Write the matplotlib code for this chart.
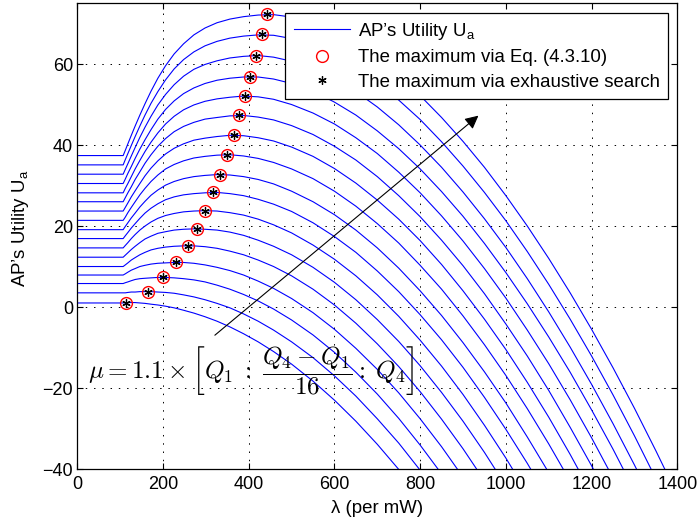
import matplotlib
matplotlib.use('Agg')
import matplotlib.pyplot as plt

plt.rcParams['font.family'] = ['Liberation Sans', 'DejaVu Sans']
plt.rcParams['mathtext.fontset'] = 'cm'

# lambda sample points (per mW) shared by all curves
lam = [0, 107, 112, 118, 126, 135, 146, 158, 172, 188, 206, 226, 248, 272, 298, 326, 356, 388, 422, 458,
       500, 550, 600, 650, 700, 750, 800, 850, 900, 950, 1000, 1050, 1100, 1150, 1200, 1250, 1300, 1350, 1400]

# AP's utility for the 17 values of mu
U01 = [1, 1, 1.1, 1.1, 1.1, 1.1, 1, 0.9, 0.7, 0.5, 0.2, -0.2, -0.8, -1.5, -2.4, -3.5, -4.9, -6.6, -8.6, -11,
       -14.1, -18.3, -23, -28.2, -33.9, -40.1]
U02 = [3.5, 3.5, 3.5, 3.6, 3.7, 3.7, 3.8, 3.8, 3.8, 3.7, 3.6, 3.4, 3, 2.5, 1.8, 0.9, -0.2, -1.7, -3.5, -5.7,
       -8.6, -12.5, -17, -22, -27.6, -33.6, -40.3]
U03 = [5.8, 5.8, 6.0, 6.2, 6.5, 6.8, 7.0, 7.1, 7.2, 7.3, 7.3, 7.2, 7.0, 6.7, 6.2, 5.4, 4.4, 3.1, 1.5, -0.5,
       -3.2, -6.9, -11.2, -16.1, -21.5, -27.5, -34.1, -41.2]
U04 = [7.9, 7.9, 8.2, 8.6, 9.1, 9.5, 10.0, 10.3, 10.6, 10.8, 10.9, 11.0, 11.0, 10.8, 10.4, 9.8, 9.0, 7.9, 6.4, 4.6,
       2.1, -1.4, -5.5, -10.2, -15.4, -21.2, -27.6, -34.5, -42.0]
U05 = [10.0, 10.0, 10.4, 10.9, 11.6, 12.2, 12.9, 13.5, 14.1, 14.5, 14.8, 15.0, 15.1, 15.1, 14.9, 14.5, 13.8, 12.9,
       11.6, 10.0, 7.7, 4.4, 0.5, -4.0, -9.1, -14.7, -20.9, -27.7, -35.0, -42.9]
U06 = [12.3, 12.3, 12.8, 13.4, 14.2, 15.0, 15.9, 16.8, 17.5, 18.2, 18.6, 19.0, 19.2, 19.3, 19.2, 19.0, 18.5, 17.7,
       16.5, 15.0, 12.9, 9.8, 6.1, 1.8, -3.1, -8.5, -14.5, -21.1, -28.2, -35.9, -44.2]
U07 = [14.6, 14.6, 15.2, 15.9, 16.9, 17.9, 19.0, 20.0, 21.0, 21.9, 22.6, 23.1, 23.5, 23.7, 23.8, 23.7, 23.3, 22.7,
       21.7, 20.3, 18.3, 15.3, 11.8, 7.7, 3.0, -2.3, -8.2, -14.6, -21.6, -29.2, -37.3, -46.0]
U08 = [16.9, 16.9, 17.6, 18.4, 19.5, 20.6, 21.9, 23.2, 24.4, 25.5, 26.5, 27.2, 27.7, 28.0, 28.2, 28.3, 28.0, 27.5,
       26.6, 25.4, 23.6, 20.8, 17.4, 13.5, 8.9, 3.8, -1.9, -8.1, -14.9, -22.3, -30.2, -38.6, -47.6]
U09 = [19.1, 19.1, 19.9, 20.8, 22.0, 23.2, 24.7, 26.1, 27.6, 28.9, 30.1, 31.0, 31.7, 32.2, 32.5, 32.7, 32.6, 32.2,
       31.5, 30.4, 28.6, 26.0, 22.8, 19.0, 14.6, 9.6, 4.0, -2.1, -8.8, -16.0, -23.7, -32.1, -40.9]
U10 = [21.4, 21.4, 22.2, 23.3, 24.6, 26.0, 27.7, 29.3, 31.0, 32.6, 34.1, 35.2, 36.1, 36.8, 37.2, 37.5, 37.6, 37.3,
       36.7, 35.7, 34.1, 31.7, 28.6, 24.9, 20.6, 15.8, 10.3, 4.4, -2.2, -9.3, -16.9, -25.1, -33.8, -43.0]
U11 = [23.7, 23.7, 24.6, 25.7, 27.2, 28.7, 30.5, 32.4, 34.3, 36.1, 37.8, 39.2, 40.3, 41.2, 41.7, 42.1, 42.4, 42.3,
       41.8, 41.0, 39.5, 37.2, 34.2, 30.6, 26.4, 21.7, 16.4, 10.5, 4.0, -3.0, -10.5, -18.6, -27.2, -36.4, -46.1]
U12 = [26.0, 26.0, 27.0, 28.2, 29.7, 31.5, 33.4, 35.5, 37.6, 39.7, 41.6, 43.3, 44.6, 45.6, 46.4, 46.8, 47.2, 47.3,
       46.9, 46.2, 44.8, 42.6, 39.7, 36.3, 32.2, 27.5, 22.3, 16.5, 10.2, 3.3, -4.2, -12.1, -20.6, -29.7, -39.2, -49.3]
U13 = [28.2, 28.2, 29.3, 30.5, 32.2, 34.1, 36.2, 38.4, 40.7, 43.0, 45.2, 47.1, 48.7, 49.9, 50.8, 51.4, 51.8, 52.1,
       51.9, 51.3, 50.0, 47.9, 45.2, 41.8, 37.9, 33.3, 28.2, 22.5, 16.3, 9.5, 2.2, -5.7, -14.0, -22.9, -32.3, -42.2]
U14 = [30.5, 30.5, 31.6, 33, 34.7, 36.7, 39, 41.3, 43.8, 46.4, 48.8, 50.9, 52.7, 54.1, 55.2, 56, 56.5, 56.8,
       56.8, 56.3, 55.2, 53.3, 50.6, 47.4, 43.5, 39.1, 34.1, 28.5, 22.4, 15.7, 8.5, 0.8, -7.4, -16.1, -25.4, -35.1, -45.4]
U15 = [32.8, 32.8, 34, 35.4, 37.3, 39.4, 41.9, 44.4, 47.1, 49.9, 52.5, 54.9, 57, 58.7, 59.9, 60.8, 61.5, 61.9,
       62.1, 61.7, 60.7, 58.9, 56.3, 53.2, 49.4, 45, 40, 34.5, 28.4, 21.8, 14.7, 7, -1.2, -9.9, -19.1, -28.8, -39, -49.6]
U16 = [35.1, 35.1, 36.4, 37.9, 39.9, 42.1, 44.7, 47.4, 50.3, 53.2, 56.1, 58.8, 61.1, 63, 64.5, 65.6, 66.4, 66.9,
       67.2, 67.1, 66.3, 64.6, 62.2, 59.1, 55.4, 51.1, 46.3, 40.8, 34.8, 28.3, 21.3, 13.7, 5.6, -3, -12.1, -21.7,
       -31.8, -42.4]
U17 = [37.4, 37.4, 38.7, 40.3, 42.4, 44.7, 47.4, 50.2, 53.3, 56.5, 59.6, 62.5, 65, 67.2, 68.9, 70.2, 71.1, 71.7,
       72.1, 72.2, 71.6, 70, 67.7, 64.8, 61.2, 57, 52.2, 46.8, 40.9, 34.5, 27.5, 20, 12, 3.5, -5.5, -15, -25,
       -35.5, -46.4]
curves = [U01, U02, U03, U04, U05, U06, U07, U08, U09, U10, U11, U12, U13, U14, U15, U16, U17]

# maxima (lambda, utility)
lam_max = [113, 165, 201, 230, 259, 279, 299, 316, 333, 349, 365, 378, 391, 404, 416, 430, 443]
U_max = [1.1, 3.8, 7.3, 11.0, 15.1, 19.3, 23.8, 28.3, 32.7, 37.6, 42.4, 47.3, 52.1, 56.9, 62.1, 67.3, 72.3]

fig = plt.figure(figsize=(6.99, 5.23), dpi=100)
ax = fig.add_axes([77.3/699, 1-469/523, 600/699, (469-3.3)/523])

for i, U in enumerate(curves):
    ax.plot(lam[:len(U)], U, color='b', lw=0.8,
            label="AP’s Utility U$_{\\mathregular{a}}$" if i == 0 else None)

ax.plot(lam_max, U_max, 'o', mfc='none', mec='r', ms=8.5, mew=1.0, ls='none',
        label='The maximum via Eq. (4.3.10)')
ax.plot(lam_max, U_max, marker=(6, 2, 0), ls='none', color='k', ms=6, mew=0.9,
        label='The maximum via exhaustive search')

ax.set_xlim(0, 1400)
ax.set_ylim(-40, 75)
ax.set_xticks(range(0, 1401, 200))
ax.set_yticks(range(-40, 61, 20))
ax.grid(True, ls=(0, (1.5, 7)), color='k', lw=0.7)
ax.tick_params(direction='in', top=True, right=True, length=4.5, labelsize=13)
ax.tick_params(axis='x', pad=4.8)
ax.tick_params(axis='y', pad=3)
for sp in ax.spines.values():
    sp.set_linewidth(0.9)

ax.set_xlabel('λ (per mW)', fontsize=13.4)
ax.set_ylabel("AP’s Utility U$_{\\mathregular{a}}$", fontsize=13.4)
ax.xaxis.set_label_coords(0.5, -0.066)
ax.yaxis.set_label_coords(-0.077, 0.517)

leg = ax.legend(loc='upper right', bbox_to_anchor=(0.985, 0.98), borderaxespad=0,
                fontsize=13.4, handlelength=3.05, handletextpad=0.4, borderpad=0.45, labelspacing=0.4,
                fancybox=False, edgecolor='k', framealpha=1)
leg.get_frame().set_linewidth(0.9)

ax.annotate('', xy=(941, 47.7), xytext=(316, -7.4),
            arrowprops=dict(arrowstyle='-|>', color='k', lw=0.8, mutation_scale=20))
ax.text(25, -15.6, r'$\mu = 1.1 \times \left[Q_1 \;:\; \dfrac{Q_4 - Q_1}{16}:\; Q_4\right]$',
        fontsize=18, ha='left', va='center')

fig.savefig('out.png', dpi=100)
